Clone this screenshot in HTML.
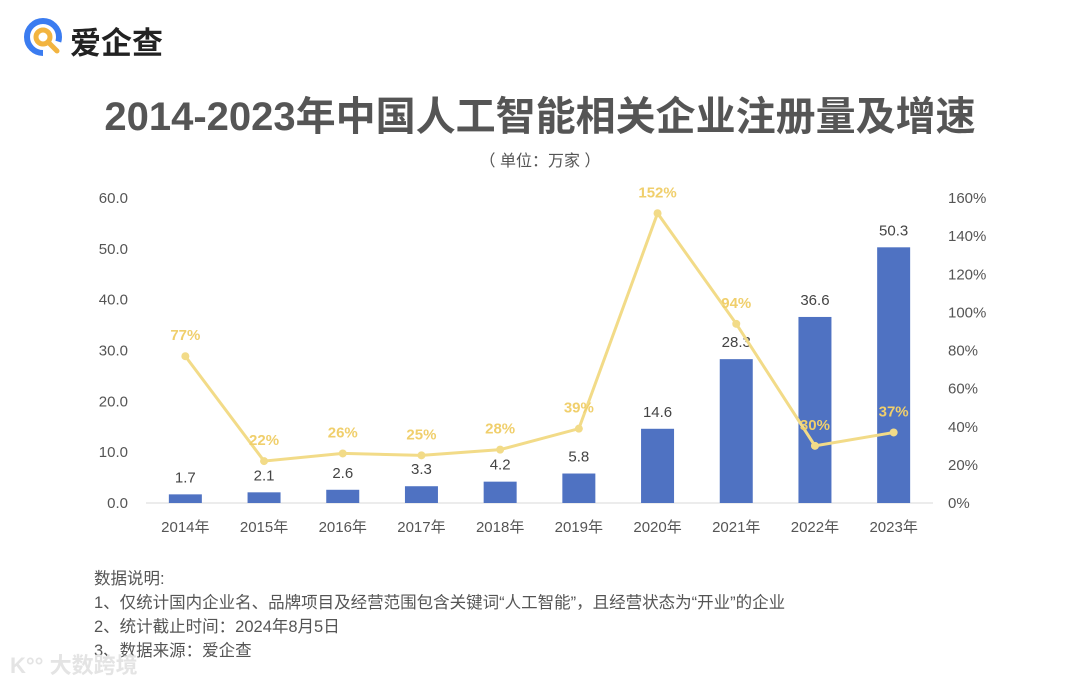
<!DOCTYPE html>
<html><head><meta charset="utf-8"><style>
body{margin:0;background:#fff;width:1080px;height:683px;overflow:hidden;font-family:"Liberation Sans","Noto Sans CJK SC",sans-serif;position:relative}
.t{position:absolute;white-space:nowrap}
</style></head><body>
<div class="t" style="left:22px;top:16px;height:44px">
<svg width="46" height="46" style="position:absolute;left:0;top:0">
<circle cx="21" cy="21" r="16" fill="none" stroke="#3b7cf0" stroke-width="6" stroke-dasharray="80 30" transform="rotate(90 21 21)"/>
<circle cx="21" cy="21" r="7" fill="none" stroke="#f2b440" stroke-width="5"/>
<line x1="26" y1="26" x2="35" y2="35" stroke="#f2b440" stroke-width="5" stroke-linecap="round"/>
</svg>
<span class="t" style="left:48px;top:2px;font-size:31px;font-weight:bold;color:#222">爱企查</span>
</div>
<div class="t" style="left:0;width:1080px;text-align:center;top:84px;font-size:40px;font-weight:bold;color:#555">2014-2023年中国人工智能相关企业注册量及增速</div>
<div class="t" style="left:0;width:1080px;text-align:center;top:147px;font-size:16px;color:#555">（ 单位：万家 ）</div>
<svg id="c" width="1080" height="683" style="position:absolute;left:0;top:0"></svg>
<div class="t" style="left:94px;top:567px;font-size:16.5px;color:#555;line-height:24px">数据说明:<br>1、仅统计国内企业名、品牌项目及经营范围包含关键词“人工智能”，且经营状态为“开业”的企业<br>2、统计截止时间：2024年8月5日<br>3、数据来源：爱企查</div>
<div class="t" style="left:10px;top:648px;font-size:22px;color:#e4e4e4;font-weight:bold">K°° 大数跨境</div>
<script>
const categories=["2014年","2015年","2016年","2017年","2018年","2019年","2020年","2021年","2022年","2023年"];
const counts=[1.7,2.1,2.6,3.3,4.2,5.8,14.6,28.3,36.6,50.3];
const growth=[77,22,26,25,28,39,152,94,30,37];
const leftTicks=[0,10,20,30,40,50,60];
const rightTicks=[0,20,40,60,80,100,120,140,160];
const svg=document.getElementById('c');const NS='http://www.w3.org/2000/svg';
const x0=146,x1=933,y0=503,y1=198;
const bw=(x1-x0)/categories.length;
const xc=i=>x0+bw*(i+0.5);
const yl=v=>y0-(v/60)*(y0-y1);
const yr=v=>y0-(v/160)*(y0-y1);
function mk(t,a,txt){const e=document.createElementNS(NS,t);for(const k in a)e.setAttribute(k,a[k]);if(txt!=null)e.textContent=txt;svg.appendChild(e);return e;}
const base=mk('line',{x1:x0,x2:x1,y1:y0,y2:y0,stroke:'#d9d9d9'});


leftTicks.forEach(v=>{const e=mk('text',{x:128,y:yl(v)+5,'text-anchor':'end','font-size':15,fill:'#555'},v.toFixed(1));

});
rightTicks.forEach(v=>{const e=mk('text',{x:948,y:yr(v)+5,'font-size':15,fill:'#555'},v+'%');

});
categories.forEach((c,i)=>{const e=mk('text',{x:xc(i),y:532,'text-anchor':'middle','font-size':15,fill:'#555'},c);


const b=mk('rect',{x:xc(i)-16.5,y:yl(counts[i]),width:33,height:y0-yl(counts[i]),fill:'#4f72c2'});


const l=mk('text',{x:xc(i),y:yl(counts[i])-12,'text-anchor':'middle','font-size':15,fill:'#444'},counts[i].toFixed(1));

});
const pl=mk('polyline',{points:growth.map((g,i)=>xc(i)+','+yr(g)).join(' '),fill:'none',stroke:'#f2db88','stroke-width':3});


growth.forEach((g,i)=>{const d=mk('circle',{cx:xc(i),cy:yr(g),r:4,fill:'#f2db88'});


const t=mk('text',{x:xc(i),y:yr(g)-16,'text-anchor':'middle','font-size':15,fill:'#f0cf6c','font-weight':'bold'},g+'%');

});
</script>
</body></html>
